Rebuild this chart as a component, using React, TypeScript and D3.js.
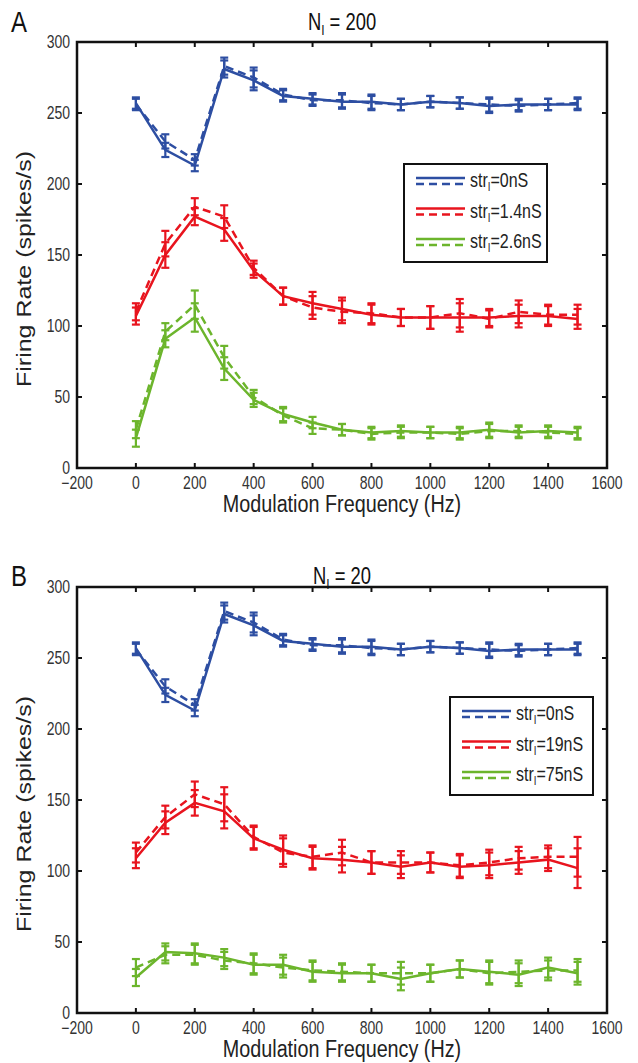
import * as d3 from "d3";

const W = 638;
const H = 1063;
const LEFT = 77;
const RIGHT = 607;
// the source figure is squeezed horizontally, so the text is too
const SQ = 0.8;

const freqs = [0, 100, 200, 300, 400, 500, 600, 700, 800, 900, 1000, 1100, 1200, 1300, 1400, 1500];
const xTicks = [-200, 0, 200, 400, 600, 800, 1000, 1200, 1400, 1600];
const yTicks = [0, 50, 100, 150, 200, 250, 300];

const BLUE = "#2d4ea2";
const RED = "#e8141e";
const GREEN = "#6cb52c";

// str=0nS (same in both panels)
const blueSolid = [257, 224, 213, 281, 273, 262, 260, 258, 258, 256, 258, 257, 255, 256, 256, 256];
const blueDash = [256, 230, 217, 283, 275, 263, 259, 259, 257, 256, 258, 257, 256, 255, 256, 257];
const blueErr = [4, 5, 4, 6, 7, 4, 4, 5, 5, 4, 4, 4, 5, 4, 4, 4];

// panel A, N_I = 200
const redSolidA = [107, 150, 177, 168, 139, 121, 116, 112, 108, 106, 106, 106, 106, 107, 107, 105];
const redDashA = [110, 158, 184, 177, 141, 121, 113, 110, 109, 106, 106, 109, 105, 110, 108, 108];
const redErrA = [6, 9, 6, 8, 5, 6, 8, 8, 7, 6, 8, 10, 6, 8, 7, 7];
const greenSolidA = [21, 91, 106, 70, 48, 38, 32, 27, 25, 26, 25, 25, 27, 25, 26, 25];
const greenDashA = [27, 96, 115, 78, 50, 37, 28, 27, 24, 25, 25, 24, 26, 26, 25, 24];
const greenErrA = [6, 6, 10, 8, 5, 5, 4, 4, 4, 4, 4, 4, 5, 4, 4, 4];

// panel B, N_I = 20
const redSolidB = [109, 134, 148, 142, 123, 115, 109, 108, 106, 103, 106, 103, 104, 106, 108, 102];
const redDashB = [113, 138, 154, 147, 124, 113, 110, 113, 106, 106, 106, 104, 106, 109, 110, 110];
const redErrB = [7, 8, 9, 12, 8, 10, 8, 9, 8, 8, 7, 8, 9, 8, 8, 14];
const greenSolidB = [25, 43, 42, 39, 34, 34, 29, 28, 28, 24, 28, 31, 29, 27, 32, 28];
const greenDashB = [32, 41, 41, 37, 35, 32, 30, 29, 28, 28, 28, 31, 28, 29, 30, 30];
const greenErrB = [6, 6, 7, 6, 7, 7, 7, 6, 6, 8, 6, 6, 8, 8, 7, 8];

type Series = { solid: number[]; dash: number[]; err: number[]; color: string; label: string };

const panelA: Series[] = [
  { solid: blueSolid, dash: blueDash, err: blueErr, color: BLUE, label: "=0nS" },
  { solid: redSolidA, dash: redDashA, err: redErrA, color: RED, label: "=1.4nS" },
  { solid: greenSolidA, dash: greenDashA, err: greenErrA, color: GREEN, label: "=2.6nS" },
];
const panelB: Series[] = [
  { solid: blueSolid, dash: blueDash, err: blueErr, color: BLUE, label: "=0nS" },
  { solid: redSolidB, dash: redDashB, err: redErrB, color: RED, label: "=19nS" },
  { solid: greenSolidB, dash: greenDashB, err: greenErrB, color: GREEN, label: "=75nS" },
];

const FONT = "'Liberation Sans', Arial, sans-serif";

// squeezed text helper
function T({ x, y, size, anchor = "start", fill = "#222", sq = SQ, children }: any) {
  return (
    <g transform={`translate(${x},${y}) scale(${sq},1)`}>
      <text fontSize={size} textAnchor={anchor} fill={fill}>{children}</text>
    </g>
  );
}

function Panel({
  top, bottom, letter, nI, series, legend, headY,
}: {
  top: number; bottom: number; letter: string; nI: string; series: Series[]; headY: number;
  legend: { x: number; y: number; w: number; h: number };
}) {
  const x = d3.scaleLinear().domain([-200, 1600]).range([LEFT, RIGHT]);
  const y = d3.scaleLinear().domain([0, 300]).range([bottom, top]);
  const line = d3.line<number>().x((_, i) => x(freqs[i])).y((v) => y(v));
  const mid = (LEFT + RIGHT) / 2;

  const errBars = (vals: number[], err: number[], color: string, key: string) =>
    vals.map((v, i) => {
      const cx = x(freqs[i]);
      return (
        <g key={key + i} stroke={color} strokeWidth={2.2}>
          <line x1={cx} x2={cx} y1={y(v - err[i])} y2={y(v + err[i])} />
          <line x1={cx - 4} x2={cx + 4} y1={y(v - err[i])} y2={y(v - err[i])} />
          <line x1={cx - 4} x2={cx + 4} y1={y(v + err[i])} y2={y(v + err[i])} />
        </g>
      );
    });

  return (
    <g fontFamily={FONT}>
      <T x={11} y={headY + 10} size={30} fill="#111">{letter}</T>
      <T x={mid} y={headY + 8} size={23} anchor="middle" fill="#111">
        N<tspan fontSize={15} dy={5}>I</tspan><tspan dy={-5}>{" = " + nI}</tspan>
      </T>

      {series.map((s) => (
        <g key={s.color}>
          {errBars(s.dash, s.err, s.color, "d")}
          {errBars(s.solid, s.err, s.color, "s")}
          <path d={line(s.dash) ?? ""} fill="none" stroke={s.color} strokeWidth={2.5} strokeDasharray="8 5" />
          <path d={line(s.solid) ?? ""} fill="none" stroke={s.color} strokeWidth={2.5} />
        </g>
      ))}

      {/* box + ticks */}
      <rect x={LEFT} y={top} width={RIGHT - LEFT} height={bottom - top} fill="none" stroke="#111" strokeWidth={2.5} />
      {xTicks.map((t) => (
        <g key={"x" + t} stroke="#111" strokeWidth={2}>
          <line x1={x(t)} x2={x(t)} y1={bottom} y2={bottom - 5} />
          <line x1={x(t)} x2={x(t)} y1={top} y2={top + 5} />
        </g>
      ))}
      {yTicks.map((t) => (
        <g key={"y" + t} stroke="#111" strokeWidth={2}>
          <line x1={LEFT} x2={LEFT + 5} y1={y(t)} y2={y(t)} />
          <line x1={RIGHT} x2={RIGHT - 5} y1={y(t)} y2={y(t)} />
        </g>
      ))}
      {xTicks.map((t) => (
        <T key={"xl" + t} x={x(t)} y={bottom + 21} size={17.5} anchor="middle" fill="#333">
          {t < 0 ? "\u2212" + Math.abs(t) : t}
        </T>
      ))}
      {yTicks.map((t) => (
        <T key={"yl" + t} x={LEFT - 7} y={y(t) + 6} size={17.5} anchor="end" fill="#333">
          {t}
        </T>
      ))}
      <T x={mid} y={bottom + 44} size={23} sq={0.86} anchor="middle">Modulation Frequency (Hz)</T>
      <g transform={`translate(31,${(top + bottom) / 2 + 14}) scale(${SQ},1) rotate(-90)`}>
        <text fontSize={25} textAnchor="middle" fill="#222">Firing Rate (spikes/s)</text>
      </g>

      {/* legend */}
      <rect x={legend.x} y={legend.y} width={legend.w} height={legend.h} fill="#fff" stroke="#111" strokeWidth={2} />
      {series.map((s, i) => {
        const ly = legend.y + 17 + i * 30.5;
        const lx = legend.x + 12;
        return (
          <g key={"lg" + i}>
            <line x1={lx} x2={lx + 49} y1={ly - 3} y2={ly - 3} stroke={s.color} strokeWidth={2.5} />
            <line x1={lx} x2={lx + 49} y1={ly + 3} y2={ly + 3} stroke={s.color} strokeWidth={2.5} strokeDasharray="8 5" />
            <T x={lx + 54} y={ly + 6} size={20}>
              str<tspan fontSize={12} dy={4}>I</tspan><tspan dy={-4}>{s.label}</tspan>
            </T>
          </g>
        );
      })}
    </g>
  );
}

export default function App() {
  return (
    <svg width={W} height={H} style={{ position: "absolute", left: 0, top: 0, background: "#fff" }}>
      <Panel top={42} bottom={468} letter="A" nI="200" series={panelA} headY={22}
        legend={{ x: 404, y: 164, w: 143, h: 98 }} />
      <Panel top={587} bottom={1013} letter="B" nI="20" series={panelB} headY={576}
        legend={{ x: 450, y: 697, w: 143, h: 98 }} />
    </svg>
  );
}
